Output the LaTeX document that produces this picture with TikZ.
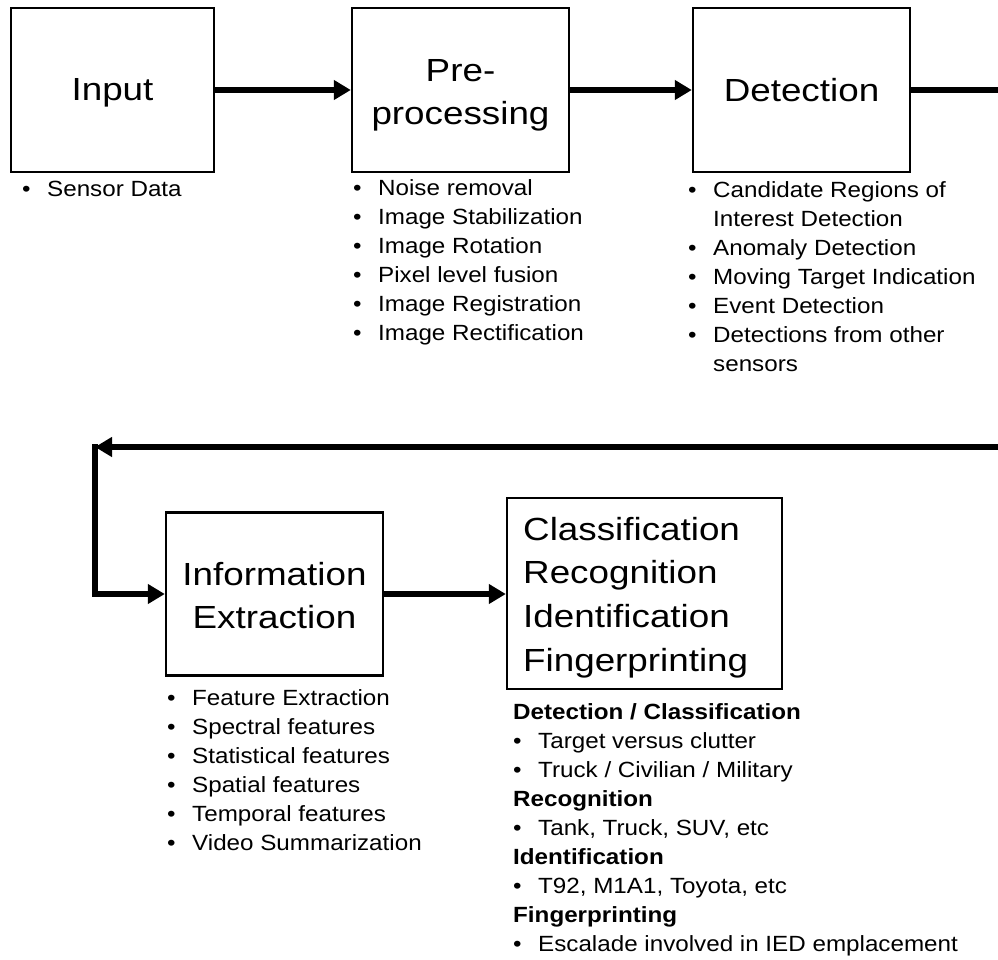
\documentclass[tikz,border=0pt]{standalone}
\usepackage{fontspec}
\setmainfont{Liberation Sans}
\newfontfamily\ttlfont[FakeStretch=1.15]{Liberation Sans}
\newfontfamily\lstfont[FakeStretch=1.1]{Liberation Sans}
\usetikzlibrary{arrows.meta}
% one bulleted line: fixed-width bullet column, then the text
\newcommand{\bl}{\makebox[25pt][l]{\strut\textbullet}}
\newcommand{\hang}{\hspace*{25pt}\strut}
\tikzset{
  stage/.style={draw, line width=2.4pt, inner sep=0pt, minimum height=164pt},
  title/.style={anchor=north, inner sep=0pt, align=center,
    font=\ttlfont\fontsize{32}{43.7}\selectfont},
  flow/.style={line width=5.5pt, -{Triangle[length=17pt,width=19pt]}},
  bar/.style={line width=5.5pt},
  items/.style={anchor=north west, inner sep=0pt, align=left,
    font=\lstfont\fontsize{22}{29}\selectfont},
}
\begin{document}
\begin{tikzpicture}[x=1pt,y=-1pt]
\useasboundingbox (0,0) rectangle (998,959);

% processing stages
\node[stage, minimum width=203pt] (inp) at (112.5,90) {};
\node[stage, minimum width=217pt] (pre) at (460.5,90) {};
\node[stage, minimum width=217pt] (det) at (801.5,90) {};
\node[stage, minimum width=217pt, minimum height=163pt] (inf) at (274.5,594) {};
\node[stage, minimum width=275pt, minimum height=191pt] (cls) at (644.5,593.5) {};

% stage titles (north = first baseline minus strut height)
\node[title] (inpT) at (112.5,69.4) {\strut Input};
\node[title] (preT) at (460.5,50.4) {\strut Pre-\\processing};
\node[title] (detT) at (801.5,70.4) {\strut Detection};
\node[title] (infT) at (274.5,554.4) {\strut Information\\Extraction};
\node[title, anchor=north west, align=left] (clsT) at (523,509.4)
  {\strut Classification\\Recognition\\Identification\\Fingerprinting};

% connectors
\coordinate (outR) at (998,90);
\coordinate (inR) at (998,447);
\coordinate (turn) at (95,447);
\draw[flow] (inp) -- (pre);
\draw[flow] (pre) -- (det);
\draw[bar] (det) -- (outR);
\draw[flow, line cap=rect] (turn) |- (inf.west);
\draw[flow] (inR) -- (turn);
\draw[flow] (inf.east) -- (inf.east -| cls.west);

% item lists under each stage
\node[items] (inpL) at (22,175.7) {\bl Sensor Data};
\node[items] (preL) at (353,174.7) {\bl Noise removal\\\bl Image Stabilization\\\bl Image Rotation\\
  \bl Pixel level fusion\\\bl Image Registration\\\bl Image Rectification};
\node[items] (detL) at (688,176.7) {\bl Candidate Regions of\\\hang Interest Detection\\\bl Anomaly Detection\\
  \bl Moving Target Indication\\\bl Event Detection\\\bl Detections from other\\\hang sensors};
\node[items] (infL) at (167,684.7) {\bl Feature Extraction\\\bl Spectral features\\\bl Statistical features\\
  \bl Spatial features\\\bl Temporal features\\\bl Video Summarization};
\node[items] (clsL) at (513,698.7) {\strut\textbf{Detection / Classification}\\\bl Target versus clutter\\
  \bl Truck / Civilian / Military\\\strut\textbf{Recognition}\\\bl Tank, Truck, SUV, etc\\
  \strut\textbf{Identification}\\\bl T92, M1A1, Toyota, etc\\\strut\textbf{Fingerprinting}\\
  \bl Escalade involved in IED emplacement};
\end{tikzpicture}
\end{document}
